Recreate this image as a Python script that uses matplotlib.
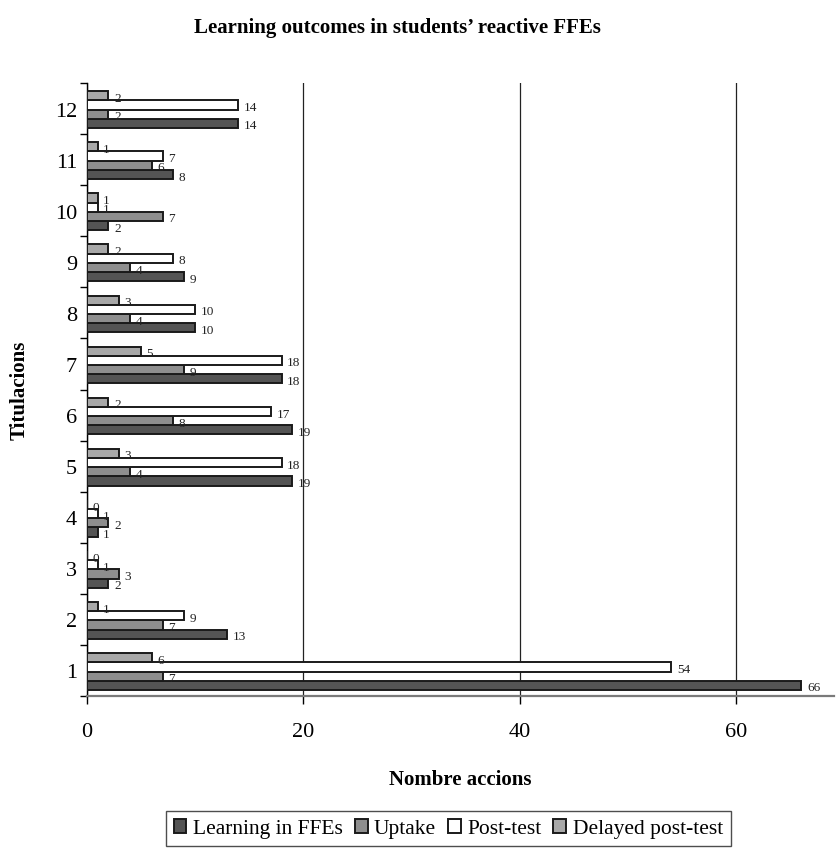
import matplotlib

matplotlib.use("Agg")
import matplotlib.pyplot as plt
import numpy as np

plt.rcParams["font.family"] = ["Liberation Serif", "DejaVu Serif"]

categories = list(range(1, 13))
learning = [66, 13, 2, 1, 19, 19, 18, 10, 9, 2, 8, 14]
uptake = [7, 7, 3, 2, 4, 8, 9, 4, 4, 7, 6, 2]
post_test = [54, 9, 1, 1, 18, 17, 18, 10, 8, 1, 7, 14]
delayed = [6, 1, 0, 0, 3, 2, 5, 3, 2, 1, 1, 2]

series = [
    ("Learning in FFEs", learning, "#545454"),
    ("Uptake", uptake, "#8e8e8e"),
    ("Post-test", post_test, "#ffffff"),
    ("Delayed post-test", delayed, "#a8a8a8"),
]

fig = plt.figure(figsize=(8.38, 8.54), dpi=100)
ax = fig.add_axes([0.1035, 0.1838, 0.8915, 0.7178])

y = np.array(categories, dtype=float)
bar_h = 0.18
offsets = [-0.29, -0.11, 0.07, 0.25]

handles = []
for (name, vals, color), off in zip(series, offsets):
    bars = ax.barh(y + off, vals, height=bar_h, color=color, edgecolor="#1a1a1a",
                   linewidth=1.4, label=name, zorder=3)
    handles.append(bars)
    for yy, v in zip(y + off, vals):
        ax.annotate(str(v), (v, yy), xytext=(4, -1.5), textcoords="offset points",
                    ha="left", va="center", fontsize=9.5, color="#222222", zorder=4)

ax.set_xlim(0, 69)
ax.set_ylim(0.5, 12.5)

ax.set_xticks([0, 20, 40, 60])
ax.tick_params(axis="x", direction="out", length=6, width=1, labelsize=16, pad=13)
ax.xaxis.grid(True, color="#222222", linewidth=0.9, zorder=0)

ax.set_yticks(categories)
ax.set_yticks(np.arange(0.5, 13, 1), minor=True)
ax.tick_params(axis="y", which="major", length=0, labelsize=16, pad=7)
ax.tick_params(axis="y", which="minor", direction="out", length=5, width=1)

for side in ("top", "right"):
    ax.spines[side].set_visible(False)
ax.spines["left"].set_linewidth(1.0)
ax.spines["bottom"].set_color("#7a7a7a")
ax.spines["bottom"].set_linewidth(1.6)

ax.set_xlabel("Nombre accions", fontsize=15, fontweight="bold", labelpad=20)
ax.set_ylabel("Titulacions", fontsize=15, fontweight="bold", labelpad=18)
fig.text(0.474, 0.967, "Learning outcomes in students\u2019 reactive FFEs",
         ha="center", va="center", fontsize=15, fontweight="bold")

leg = fig.legend(handles=handles, loc="center", bbox_to_anchor=(0.535, 0.0285),
                 ncol=4, frameon=True, fancybox=False, fontsize=15.5,
                 handlelength=0.6, handleheight=0.6, handletextpad=0.3,
                 columnspacing=0.55, borderpad=0.35, edgecolor="#222222")
leg.get_frame().set_linewidth(1.0)

fig.savefig("out.png", dpi=100)
